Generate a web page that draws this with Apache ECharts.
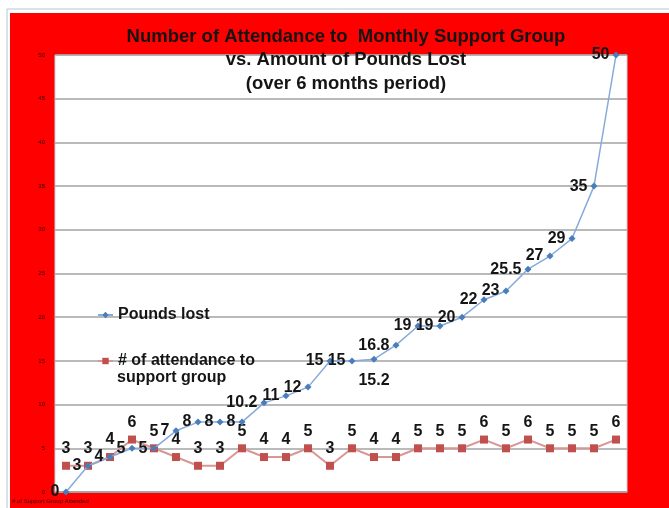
<!DOCTYPE html>
<html>
<head>
<meta charset="utf-8">
<style>
  html, body { margin: 0; padding: 0; background: #fff; }
  #chart { width: 669px; height: 508px; }
</style>
<script src="https://cdn.jsdelivr.net/npm/echarts@6/dist/echarts.min.js"></script>
</head>
<body>
<div id="chart"></div>
<script>
// 26 readings over the 6 months
const points = ['1','2','3','4','5','6','7','8','9','10','11','12','13','14','15','16','17','18','19','20','21','22','23','24','25','26'];
const poundsLost = [0, 3, 4, 5, 5, 7, 8, 8, 8, 10.2, 11, 12, 15, 15, 15.2, 16.8, 19, 19, 20, 22, 23, 25.5, 27, 29, 35, 50];
const attendance = [3, 3, 4, 6, 5, 4, 3, 3, 5, 4, 4, 5, 3, 5, 4, 4, 5, 5, 5, 6, 5, 6, 5, 5, 5, 6];
const yTicks = { min: 0, max: 50, step: 5 };

const FONT = '"Liberation Sans", Arial, sans-serif';
const TXT = '#151515';

const chart = echarts.init(document.getElementById('chart'));

const poundsData = poundsLost.map((v, i) => {
  if (i === 14) return { value: v, label: { position: 'bottom', distance: 10 } };
  return v;
});

const legendText = { fontFamily: FONT, fontWeight: 'bold', fontSize: 16, color: TXT };

chart.setOption({
  animation: false,
  backgroundColor: '#fff',
  textStyle: { fontFamily: FONT },
  graphic: [
    { type: 'rect', z: -10, silent: true, shape: { x: 7, y: 9, width: 670, height: 510 },
      style: { fill: 'none', stroke: '#b8c4d6', lineWidth: 1 } },
    { type: 'rect', z: -9, silent: true, shape: { x: 10, y: 13, width: 670, height: 500 },
      style: { fill: '#ff0000' } },
    { type: 'text', left: 12, top: 498, silent: true,
      style: { text: '# of Support Group Attended', fill: '#3a0000', font: '6px ' + FONT } },
    // second line of the attendance legend entry
    { type: 'text', left: 117, top: 370, z: 10, silent: true,
      style: { text: 'support group', fill: TXT, font: 'bold 16px ' + FONT } }
  ],
  title: {
    text: 'Number of Attendance to  Monthly Support Group\nvs. Amount of Pounds Lost\n(over 6 months period)',
    left: 341,
    top: 20,
    textAlign: 'center',
    textStyle: { fontFamily: FONT, fontWeight: 'bold', fontSize: 18.5, lineHeight: 23.5, color: TXT }
  },
  legend: [
    {
      data: ['Pounds lost'],
      left: 97, top: 307, padding: 0,
      itemWidth: 15, itemHeight: 8,
      textStyle: legendText
    },
    {
      data: ['# of attendance to support group'],
      left: 97, top: 353, padding: 0,
      itemWidth: 15, itemHeight: 8,
      formatter: () => '# of attendance to',
      textStyle: legendText
    }
  ],
  grid: {
    left: 55, top: 55, right: 42, bottom: 16,
    show: true, backgroundColor: '#fff', borderColor: '#c9d3df', borderWidth: 1
  },
  xAxis: {
    type: 'category',
    data: points,
    boundaryGap: true,
    axisLabel: { show: false },
    axisTick: { show: false },
    axisLine: { show: true, lineStyle: { color: '#a0a0a0', width: 1.5 } }
  },
  yAxis: {
    type: 'value',
    min: yTicks.min, max: yTicks.max, interval: yTicks.step,
    axisLabel: { fontSize: 6, color: '#2a0000', margin: 10, fontFamily: FONT },
    axisLine: { show: false },
    axisTick: { show: false },
    splitLine: { lineStyle: { color: '#a3a3a3', width: 1.5 } }
  },
  series: [
    {
      name: 'Pounds lost',
      type: 'line',
      data: poundsData,
      symbol: 'diamond',
      symbolSize: 7,
      itemStyle: { color: '#4a7ebb' },
      lineStyle: { color: '#86abdb', width: 1.5 },
      label: {
        show: true, position: 'left', distance: 3,
        fontFamily: FONT, fontWeight: 'bold', fontSize: 16, color: TXT
      },
      z: 3
    },
    {
      name: '# of attendance to support group',
      type: 'line',
      data: attendance,
      symbol: 'rect',
      symbolSize: 8,
      itemStyle: { color: '#c0504d' },
      lineStyle: { color: '#da9694', width: 2 },
      label: {
        show: true, position: 'top', distance: 5,
        fontFamily: FONT, fontWeight: 'bold', fontSize: 16, color: TXT
      },
      z: 2
    }
  ]
});
</script>
</body>
</html>
